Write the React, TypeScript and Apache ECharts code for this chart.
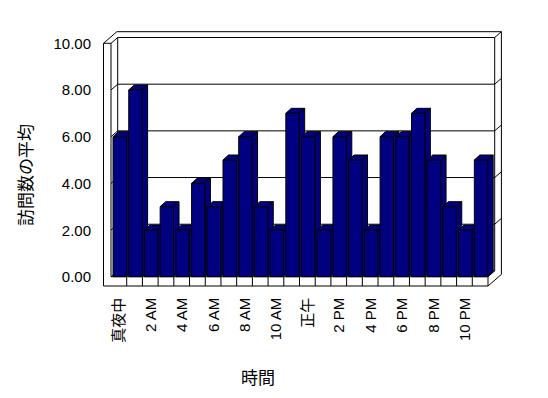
import React, { useEffect, useRef } from "react";
import * as echarts from "echarts";

// ---- data ----
const categories = [
  "真夜中", "1 AM", "2 AM", "3 AM", "4 AM", "5 AM", "6 AM", "7 AM", "8 AM", "9 AM", "10 AM", "11 AM",
  "正午", "1 PM", "2 PM", "3 PM", "4 PM", "5 PM", "6 PM", "7 PM", "8 PM", "9 PM", "10 PM", "11 PM",
];
const visits = [6, 8, 2, 3, 2, 4, 3, 5, 6, 3, 2, 7, 6, 2, 6, 5, 2, 6, 6, 7, 5, 3, 2, 5];
const yTicks = [0, 2, 4, 6, 8, 10];
const xAxisTitle = "時間";
const yAxisTitle = "訪問数の平均";

// ---- layout ----
const W = 548;
const H = 398;
const GL = 111;
const GR = 488;
const GT = 43.3;
const GB = 276.7;
const DX = 6.7;
const DY = -5.8;
const WALL_OUT = 103.5;
const FLOOR_BOTTOM = 286;
const BAR_DX = 5.5;
const BAR_DY = -5;
const BAR_FILL = "#000080";
const NARROW = "'Liberation Sans Narrow', 'Liberation Sans', Arial, sans-serif";
const LATIN = "'Liberation Sans', Arial, sans-serif";
const CJK = "'Noto Sans CJK JP', sans-serif";
const Y_MAX = 10;

const yF = (v: number) => GB - ((GB - GT) * v) / Y_MAX;
const yB = (v: number) => yF(v) + DY;

function line(x1: number, y1: number, x2: number, y2: number) {
  return {
    type: "line",
    silent: true,
    z: 0,
    shape: { x1, y1, x2, y2 },
    style: { stroke: "#000", lineWidth: 1 },
  };
}

function buildFrame() {
  const els: any[] = [];
  els.push({
    type: "rect",
    silent: true,
    z: 0,
    shape: { x: GL + DX, y: GT + DY, width: GR - GL, height: GB - GT },
    style: { fill: "#fff", stroke: "#000", lineWidth: 1 },
  });
  els.push({
    type: "polyline",
    silent: true,
    z: 0,
    shape: {
      points: [
        [WALL_OUT + 2 * DX, GT + 2 * DY],
        [GR + 2 * DX, GT + 2 * DY],
        [GR + 2 * DX, FLOOR_BOTTOM + 2 * DY],
      ],
    },
    style: { fill: "none", stroke: "#000", lineWidth: 1 },
  });
  els.push(line(GR + DX, GT + DY, GR + 2 * DX, GT + 2 * DY));
  els.push(line(WALL_OUT, GT, WALL_OUT, FLOOR_BOTTOM));
  els.push(line(GL, GT, GL, GB));
  els.push(line(WALL_OUT, GT, GL, GT));
  els.push(line(WALL_OUT, GT, WALL_OUT + 2 * DX, GT + 2 * DY));
  els.push(line(GL, GT, GL + DX, GT + DY));
  els.push(line(WALL_OUT, FLOOR_BOTTOM, GR, FLOOR_BOTTOM));
  els.push(line(GL, GB, GR, GB));
  const band = (GR - GL) / categories.length;
  for (let i = 1; i <= categories.length; i++) {
    const x = GL + band * i;
    els.push(line(x, GB, x, FLOOR_BOTTOM));
  }
  els.push(line(GR, FLOOR_BOTTOM, GR + 2 * DX, FLOOR_BOTTOM + 2 * DY));
  els.push(line(GR, GB, GR + DX, GB + DY));
  yTicks.forEach((v) => {
    if (v > 0 && v < Y_MAX) {
      els.push(line(GL + DX, yB(v), GR + DX, yB(v)));
      els.push(line(GR + DX, yB(v), GR + 2 * DX, yB(v) + DY));
    }
    if (v < Y_MAX) els.push(line(GL, yF(v), GL + DX, yB(v)));
  });
  return els;
}

export default function App() {
  const ref = useRef<HTMLDivElement>(null);
  useEffect(() => {
    if (!ref.current) return;
    const chart = echarts.init(ref.current, null, { renderer: "svg" });
    const option: any = {
      animation: false,
      backgroundColor: "#fff",
      grid: { left: GL, right: W - GR, top: GT, bottom: H - GB, containLabel: false },
      xAxis: {
        type: "category",
        data: categories,
        axisLine: { show: false },
        axisTick: { show: false },
        splitLine: { show: false },
        axisLabel: {
          interval: 1,
          rotate: 90,
          margin: 21,
          color: "#000",
          fontSize: 15,
          fontFamily: NARROW + ", " + CJK,
        },
        name: xAxisTitle,
        nameLocation: "middle",
        nameGap: 91,
        nameTextStyle: { color: "#000", fontSize: 17, fontFamily: CJK, padding: [0, 83, 0, 0] },
      },
      yAxis: {
        type: "value",
        min: 0,
        max: Y_MAX,
        interval: 2,
        axisLine: { show: false },
        axisTick: { show: false },
        splitLine: { show: false },
        axisLabel: {
          margin: 20,
          color: "#000",
          fontSize: 15,
          fontFamily: LATIN,
          formatter: (v: number) => v.toFixed(2),
        },
        name: yAxisTitle,
        nameLocation: "middle",
        nameGap: 78,
        nameTextStyle: { color: "#000", fontSize: 17, fontFamily: CJK, padding: [0, 30, 0, 0] },
      },
      graphic: { elements: buildFrame() },
      series: [
        {
          type: "custom",
          z: 5,
          data: visits.map((v, i) => [i, v]),
          renderItem: (params: any, api: any) => {
            const idx = api.value(0);
            const v = api.value(1);
            const base = api.coord([idx, 0]);
            const top = api.coord([idx, v]);
            const band = api.size([1, 0])[0];
            const x0 = base[0] - band / 2 + band * 0.13;
            const w = band * 0.85;
            const style = { fill: BAR_FILL, stroke: "#000", lineWidth: 1 };
            return {
              type: "group",
              children: [
                {
                  type: "polygon",
                  shape: {
                    points: [
                      [x0, top[1]],
                      [x0 + BAR_DX, top[1] + BAR_DY],
                      [x0 + w + BAR_DX, top[1] + BAR_DY],
                      [x0 + w, top[1]],
                    ],
                  },
                  style,
                },
                {
                  type: "polygon",
                  shape: {
                    points: [
                      [x0 + w, top[1]],
                      [x0 + w + BAR_DX, top[1] + BAR_DY],
                      [x0 + w + BAR_DX, base[1] + BAR_DY],
                      [x0 + w, base[1]],
                    ],
                  },
                  style,
                },
                {
                  type: "rect",
                  shape: { x: x0, y: top[1], width: w, height: base[1] - top[1] },
                  style,
                },
              ],
            };
          },
        },
      ],
    };
    chart.setOption(option);
    return () => chart.dispose();
  }, []);
  return (
    <div
      ref={ref}
      style={{ position: "absolute", left: 0, top: 0, width: W, height: H }}
    />
  );
}
